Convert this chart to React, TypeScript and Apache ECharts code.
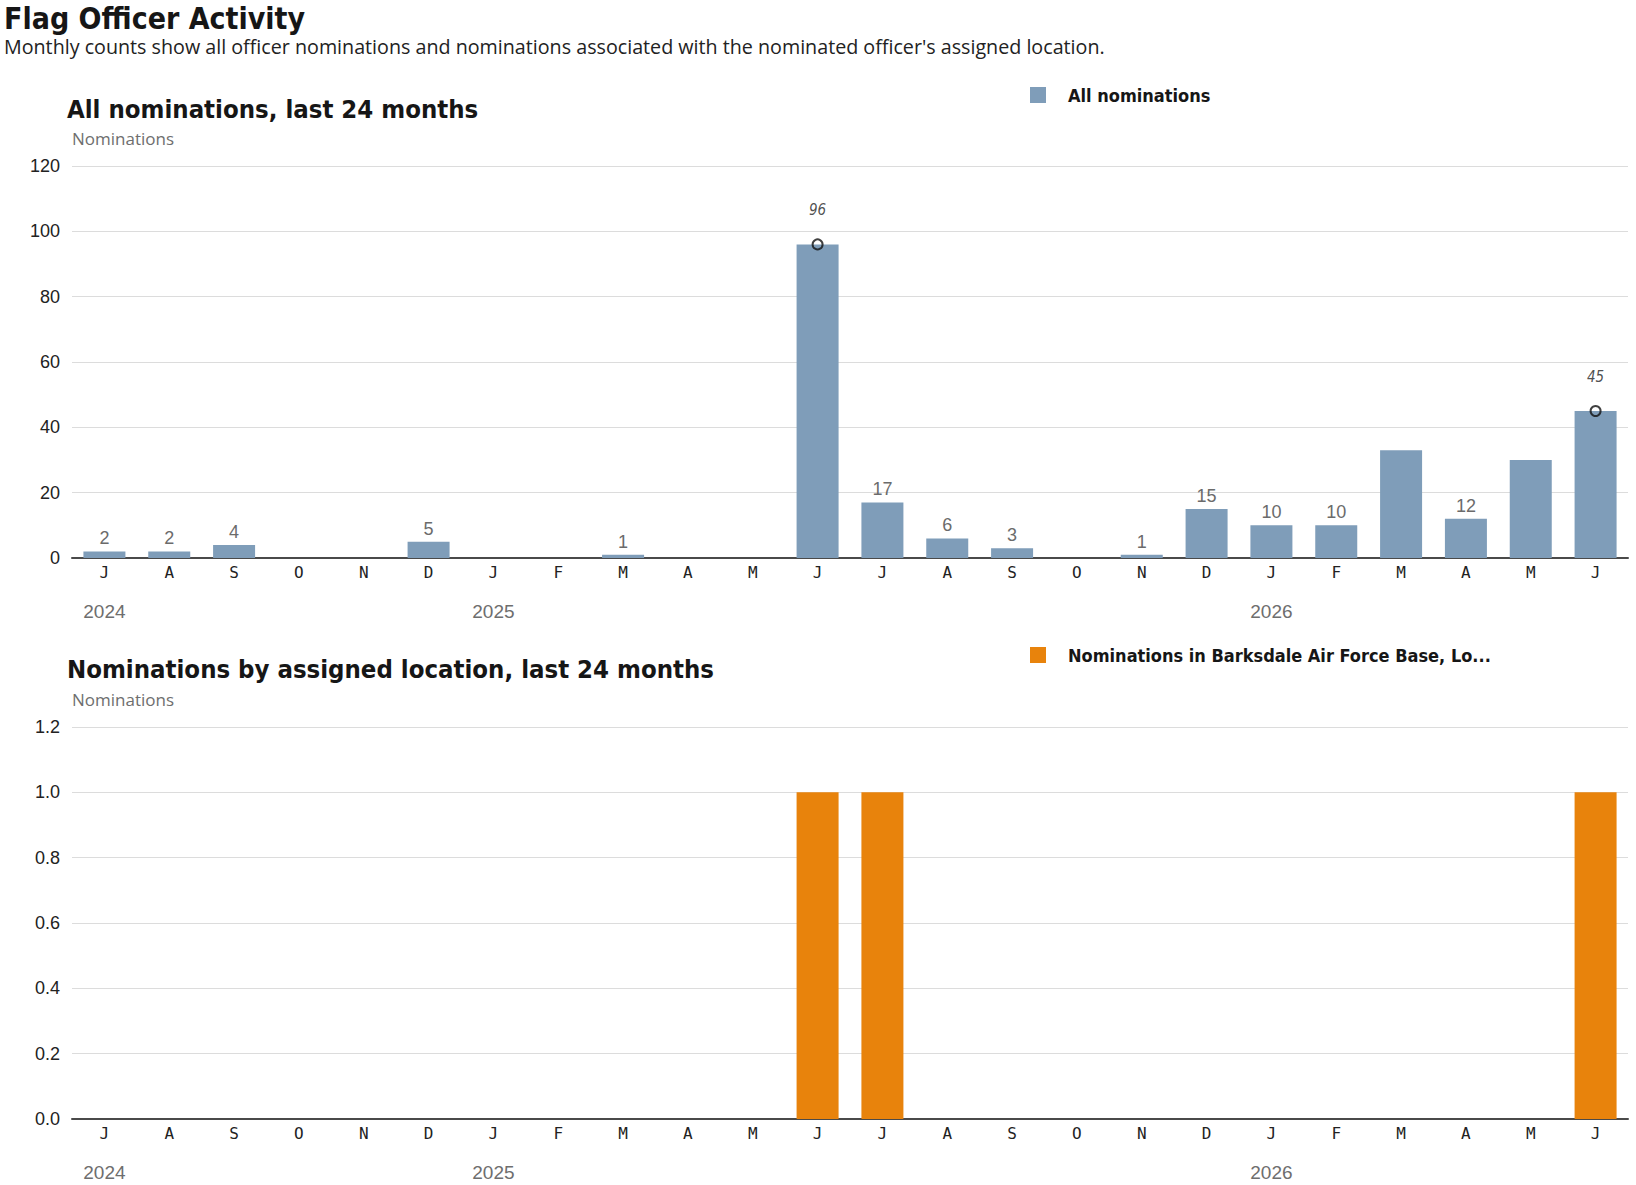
import React, { useEffect, useRef } from "react";
import * as echarts from "echarts";

// Monthly buckets, July 2024 through June 2026
const months: string[] = [
  "2024-07", "2024-08", "2024-09", "2024-10", "2024-11", "2024-12",
  "2025-01", "2025-02", "2025-03", "2025-04", "2025-05", "2025-06",
  "2025-07", "2025-08", "2025-09", "2025-10", "2025-11", "2025-12",
  "2026-01", "2026-02", "2026-03", "2026-04", "2026-05", "2026-06",
];

const monthLetters: string[] = ["J", "F", "M", "A", "M", "J", "J", "A", "S", "O", "N", "D"];

// All nominations per month
const allNominations: number[] = [
  2, 2, 4, 0, 0, 5, 0, 0, 1, 0, 0, 96,
  17, 6, 3, 0, 1, 15, 10, 10, 33, 12, 30, 45,
];

// Months whose value label is not printed above the bar
const unlabeledMonths: number[] = [11, 20, 22, 23];

// Months flagged with a circle marker and italic value
const highlightedMonths: number[] = [11, 23];

// Nominations tied to the officer's assigned location
const locationNominations: number[] = [
  0, 0, 0, 0, 0, 0, 0, 0, 0, 0, 0, 1,
  1, 0, 0, 0, 0, 0, 0, 0, 0, 0, 0, 1,
];

const topTicks = { min: 0, max: 120, interval: 20 };
const bottomTicks = { min: 0, max: 1.2, interval: 0.2 };

const allName = "All nominations";
const locationName = "Nominations in Barksdale Air Force Base, Lo...";

const BLUE = "#7f9db9";
const ORANGE = "#e8830c";
const SANS = "'Liberation Sans', Arial, sans-serif";
const WIDE = "'Open Sans', 'Liberation Sans', sans-serif";
const NARROW = "'Liberation Sans Narrow', 'DejaVu Sans Condensed', sans-serif";
const MONO = "'DejaVu Sans Mono', monospace";

function monthLabel(value: string, index: number): string {
  const [y, m] = value.split("-");
  const letter = monthLetters[parseInt(m, 10) - 1];
  if (index === 0 || m === "01") return `{m|${letter}}\n{y|${y}}`;
  return `{m|${letter}}`;
}

function xAxisFor(gridIndex: number) {
  return {
    type: "category",
    gridIndex,
    data: months,
    axisTick: { show: false },
    axisLine: { lineStyle: { color: "#4a4a4a", width: 2 } },
    axisLabel: {
      interval: 0,
      margin: 3,
      formatter: monthLabel,
      rich: {
        m: { fontFamily: MONO, fontSize: 16, color: "#222", lineHeight: 22 },
        y: { fontFamily: SANS, fontSize: 19, color: "#6e6e6e", lineHeight: 56 },
      },
    },
  };
}

function yAxisFor(gridIndex: number, ticks: { min: number; max: number; interval: number }, digits: number) {
  return {
    type: "value",
    gridIndex,
    min: ticks.min,
    max: ticks.max,
    interval: ticks.interval,
    name: "Nominations",
    nameLocation: "end",
    nameGap: 19,
    nameTextStyle: { align: "left", fontFamily: WIDE, fontSize: 17, color: "#6e6e6e" },
    axisLine: { show: false },
    axisTick: { show: false },
    axisLabel: {
      margin: 12,
      fontFamily: SANS,
      fontSize: 18,
      color: "#222",
      formatter: (v: number) => v.toFixed(digits),
    },
    splitLine: { lineStyle: { color: "#dcdcdc", width: 1 } },
  };
}

export default function App() {
  const ref = useRef<HTMLDivElement>(null);

  useEffect(() => {
    if (!ref.current) return;
    const chart = echarts.init(ref.current, null, { renderer: "svg" });

    const barData = allNominations.map((v, i) => ({
      value: v,
      label: { show: v > 0 && !unlabeledMonths.includes(i) },
    }));
    const markerData = allNominations.map((v, i) => (highlightedMonths.includes(i) ? v : "-"));

    const legendText = { fontFamily: NARROW, fontWeight: "bold", fontSize: 18, color: "#161616", padding: [0, 0, 0, 17] };

    chart.setOption({
      animation: false,
      backgroundColor: "#fff",
      title: [
        {
          text: "Flag Officer Activity",
          left: 4,
          top: 2,
          padding: 0,
          textStyle: { fontFamily: NARROW, fontWeight: 900, fontSize: 30, lineHeight: 32, color: "#161616" },
        },
        {
          text: "Monthly counts show all officer nominations and nominations associated with the nominated officer's assigned location.",
          left: 4,
          top: 36,
          padding: 0,
          textStyle: { fontFamily: WIDE, fontWeight: "normal", fontSize: 19.7, color: "#222" },
        },
        {
          text: "All nominations, last 24 months",
          left: 67,
          top: 96,
          padding: 0,
          textStyle: { fontFamily: NARROW, fontWeight: 900, fontSize: 25.5, color: "#161616" },
        },
        {
          text: "Nominations by assigned location, last 24 months",
          left: 67,
          top: 656,
          padding: 0,
          textStyle: { fontFamily: NARROW, fontWeight: 900, fontSize: 25.5, color: "#161616" },
        },
      ],
      legend: [
        {
          data: [allName],
          left: 1025,
          top: 81,
          icon: "rect",
          itemWidth: 16,
          itemHeight: 16,
          selectedMode: false,
          textStyle: legendText,
        },
        {
          data: [locationName],
          left: 1025,
          top: 641,
          icon: "rect",
          itemWidth: 16,
          itemHeight: 16,
          selectedMode: false,
          textStyle: legendText,
        },
      ],
      grid: [
        { left: 72, top: 166, width: 1556, height: 392, containLabel: false },
        { left: 72, top: 727, width: 1556, height: 392, containLabel: false },
      ],
      xAxis: [xAxisFor(0), xAxisFor(1)],
      yAxis: [yAxisFor(0, topTicks, 0), yAxisFor(1, bottomTicks, 1)],
      series: [
        {
          name: allName,
          type: "bar",
          xAxisIndex: 0,
          yAxisIndex: 0,
          barWidth: 42,
          itemStyle: { color: BLUE },
          label: {
            position: "top",
            distance: 4,
            fontFamily: SANS,
            fontSize: 18,
            color: "#6b6b6b",
          },
          data: barData,
        },
        {
          name: "highlight",
          type: "scatter",
          xAxisIndex: 0,
          yAxisIndex: 0,
          symbol: "circle",
          symbolSize: 10,
          z: 5,
          itemStyle: { color: "rgba(255,255,255,0)", borderColor: "#111", borderWidth: 2 },
          label: {
            show: true,
            position: "top",
            distance: 21,
            fontFamily: NARROW,
            fontStyle: "italic",
            fontSize: 15,
            color: "#222",
          },
          data: markerData,
        },
        {
          name: locationName,
          type: "bar",
          xAxisIndex: 1,
          yAxisIndex: 1,
          barWidth: 42,
          itemStyle: { color: ORANGE },
          data: locationNominations,
        },
      ],
    });

    return () => chart.dispose();
  }, []);

  return (
    <div
      ref={ref}
      style={{ position: "absolute", left: 0, top: 0, width: 1636, height: 1185 }}
    />
  );
}
